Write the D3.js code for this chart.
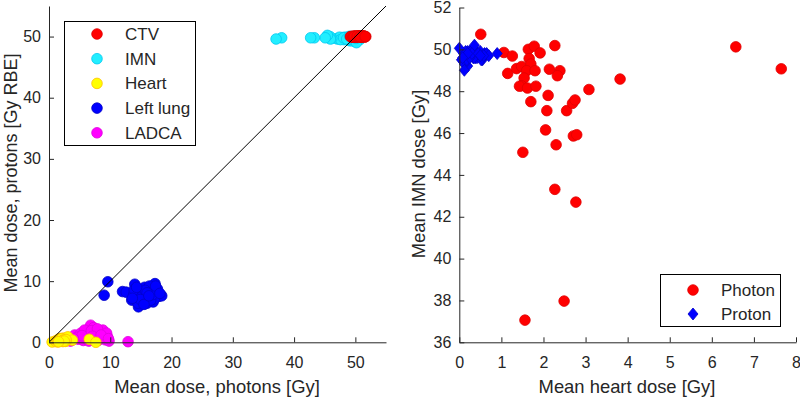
<!DOCTYPE html>
<html>
<head>
<meta charset="utf-8">
<script src="https://cdn.jsdelivr.net/npm/d3@7"></script>
<style>
  body { margin: 0; background: #fff; }
  svg { font-family: "Liberation Sans", Arial, sans-serif; }
</style>
</head>
<body>
<svg id="chart" width="800" height="398"></svg>
<script>
// per patient values (41 patients)
var photonHeart = [0.51, 1.06, 1.26, 1.15, 1.36, 1.48, 1.64, 1.78, 1.92, 1.66, 1.70, 1.60, 1.80, 1.54, 1.48, 1.43, 1.62, 1.82, 2.14, 2.39, 2.33,
    2.27, 1.70, 2.11, 2.08, 2.55, 2.69, 2.75, 3.08, 3.82, 2.05, 2.71, 2.79, 2.30, 1.51, 2.27, 2.77, 2.49, 1.56, 6.57, 7.65];
var photonIMN = [50.72, 49.85, 49.68, 48.85, 49.08, 49.18, 50.0, 50.15, 49.83, 49.56, 49.3, 48.98, 48.98, 48.63, 48.26, 48.24, 48.15, 48.24, 49.05, 48.98, 48.74,
    50.18, 47.5, 47.8, 47.07, 47.07, 47.42, 47.58, 48.08, 48.58, 46.15, 45.86, 45.92, 45.44, 45.08, 43.31, 42.7, 37.97, 37.06, 50.12, 49.07];
var protonHeart = [0.05, 0.2, 0.3, 0.1, 0.15, 0.12, 0.4, 0.35, 0.5, 0.22, 0.45, 0.18, 0.28, 0.33, 0.4, 0.25, 0.55, 0.6, 0.3, 0.38, 0.2,
    0.12, 0.48, 0.65, 0.42, 0.7, 0.15, 0.52, 0.9, 0.35, 0.58, 0.32, 0.25, 0.36, 0.1, 0.3, 0.45, 0.2, 0.08, 0.5, 0.0];
var protonIMN = [49.5, 49.2, 49.7, 49.4, 49.6, 49.3, 49.8, 50.0, 49.9, 49.6, 49.7, 49.5, 49.8, 49.6, 49.7, 49.9, 49.5, 49.8, 49.7, 49.6, 49.9,
    49.0, 49.7, 49.8, 49.6, 49.7, 49.9, 49.5, 49.8, 49.6, 49.7, 50.0, 49.6, 50.2, 49.8, 49.8, 49.8, 49.8, 49.6, 49.7, 50.05];
var photonCTV = [49.2, 49.5, 49.8, 50.1, 50.3, 50.6, 50.9, 51.2, 51.5, 51.7, 49.6, 50.0, 50.4, 50.8, 51.0, 49.9, 50.2, 50.5, 50.7, 51.3, 49.4,
    49.7, 50.0, 50.3, 50.6, 51.1, 49.3, 49.9, 50.1, 50.4, 50.9, 51.4, 49.6, 50.2, 50.5, 50.8, 51.0, 49.8, 50.3, 50.7, 51.6];
var protonCTV = [50.0, 49.9, 50.1, 50.0, 49.95, 50.05, 50.0, 50.1, 49.9, 50.0, 50.05, 49.95, 50.0, 50.1, 49.9, 50.0, 50.05, 50.0, 49.95, 50.1, 50.0,
    49.9, 50.05, 50.0, 50.1, 49.95, 50.0, 50.0, 49.9, 50.05, 50.0, 50.1, 49.95, 50.0, 50.0, 50.05, 49.9, 50.0, 50.1, 50.0, 50.0];
var photonLung = [9.6, 9.0, 12.0, 12.6, 14.0, 13.5, 14.6, 15.4, 16.5, 17.3, 17.0, 16.0, 17.9, 18.4, 14.2, 14.8, 15.0, 15.6, 16.2, 16.8, 17.5,
    13.8, 14.5, 15.3, 15.9, 16.4, 17.2, 17.7, 13.9, 15.1, 16.6, 16.9, 15.7, 14.3, 17.4, 16.0, 14.9, 18.1, 15.5, 16.3, 13.6];
var protonLung = [9.9, 7.7, 8.3, 8.2, 9.5, 6.9, 5.8, 7.7, 8.3, 9.6, 6.6, 6.4, 7.5, 7.6, 7.3, 8.6, 6.8, 9.0, 7.3, 8.8, 8.2,
    7.8, 6.4, 8.2, 7.9, 9.2, 7.1, 8.7, 8.6, 7.4, 6.9, 7.8, 8.5, 9.0, 9.2, 8.1, 7.0, 8.0, 6.2, 7.6, 7.2];
var photonLAD = [4.2, 4.8, 5.2, 5.6, 6.0, 6.4, 6.8, 7.0, 7.2, 7.5, 7.8, 8.0, 8.3, 8.6, 8.9, 9.2, 9.5, 9.8, 5.0, 5.8, 6.2,
    6.6, 7.3, 7.6, 8.1, 8.4, 8.8, 9.0, 3.8, 4.5, 5.4, 6.9, 7.9, 9.4, 3.5, 4.0, 6.5, 7.1, 8.5, 9.7, 12.9];
var protonLAD = [1.2, 0.5, 1.5, 0.3, 1.0, 1.8, 2.8, 1.4, 0.6, 2.0, 1.1, 0.3, 1.7, 0.9, 1.3, 0.4, 1.0, 0.2, 0.9, 2.0, 0.5,
    1.2, 2.4, 0.9, 1.5, 0.6, 2.0, 0.8, 0.4, 0.8, 1.1, 1.9, 2.2, 1.5, 0.2, 0.6, 0.2, 1.0, 1.2, 0.6, 0.1];

var leftTicks = [0, 10, 20, 30, 40, 50];
var rightXTicks = [0, 1, 2, 3, 4, 5, 6, 7, 8];
var rightYTicks = [36, 38, 40, 42, 44, 46, 48, 50, 52];

var structures = [
    {name: "CTV", x: photonCTV, y: protonCTV, fill: "#ff0000", stroke: "#e00000"},
    {name: "IMN", x: photonIMN, y: protonIMN, fill: "#22eeff", stroke: "#00c8f0"},
    {name: "Heart", x: photonHeart, y: protonHeart, fill: "#ffff00", stroke: "#ffc000"},
    {name: "Left lung", x: photonLung, y: protonLung, fill: "#0000ff", stroke: "#0000c8"},
    {name: "LADCA", x: photonLAD, y: protonLAD, fill: "#ff00ff", stroke: "#e000e0"}
];
// order the points are drawn in
var drawOrder = ["IMN", "CTV", "LADCA", "Left lung", "Heart"];

var svg = d3.select("#chart");
var axisColor = "#262626";

function styleAxis(g) {
    g.select(".domain").attr("stroke", axisColor).attr("stroke-width", 1);
    g.selectAll(".tick line").attr("stroke", axisColor);
    g.selectAll(".tick text").attr("fill", axisColor).style("font-size", "16px");
}

// ---------- left panel ----------
var x1 = d3.scaleLinear().domain([0, 55]).range([49, 386]);
var y1 = d3.scaleLinear().domain([0, 55]).range([342.3, 6]);

var pts1 = svg.append("g");
drawOrder.forEach(function (name) {
    var s = structures.find(function (d) { return d.name === name; });
    pts1.append("g")
        .selectAll("circle")
        .data(s.x.map(function (v, i) { return [v, s.y[i]]; }))
        .enter()
        .append("circle")
        .attr("cx", function (d) { return x1(d[0]); })
        .attr("cy", function (d) { return y1(d[1]); })
        .attr("r", 5.3)
        .attr("fill", s.fill)
        .attr("stroke", s.stroke)
        .attr("stroke-width", 0.8);
});

// line of identity
svg.append("line")
    .attr("x1", x1(0)).attr("y1", y1(0))
    .attr("x2", x1(55)).attr("y2", y1(55))
    .attr("stroke", "#000")
    .attr("stroke-width", 1);

svg.append("g")
    .attr("transform", "translate(0," + y1(0) + ")")
    .call(d3.axisBottom(x1).tickValues(leftTicks).tickSizeInner(-5).tickSizeOuter(0).tickPadding(14))
    .call(styleAxis);
svg.append("g")
    .attr("transform", "translate(" + x1(0) + ",0)")
    .call(d3.axisLeft(y1).tickValues(leftTicks).tickSizeInner(-5).tickSizeOuter(0).tickPadding(8))
    .call(styleAxis);

svg.append("text")
    .attr("x", 217).attr("y", 393)
    .attr("text-anchor", "middle")
    .attr("fill", axisColor)
    .style("font-size", "18.4px")
    .text("Mean dose, photons [Gy]");
svg.append("text")
    .attr("transform", "translate(17,173) rotate(-90)")
    .attr("text-anchor", "middle")
    .attr("fill", axisColor)
    .style("font-size", "18px")
    .text("Mean dose, protons [Gy RBE]");

// legend left
var leg1 = svg.append("g");
leg1.append("rect")
    .attr("x", 64.5).attr("y", 21.5).attr("width", 131).attr("height", 124)
    .attr("fill", "#fff").attr("stroke", "#000").attr("stroke-width", 1);
structures.forEach(function (s, i) {
    var ly = 34 + i * 24.7;
    leg1.append("circle")
        .attr("cx", 97).attr("cy", ly).attr("r", 5.3)
        .attr("fill", s.fill).attr("stroke", s.stroke).attr("stroke-width", 0.8);
    leg1.append("text")
        .attr("x", 125).attr("y", ly).attr("dy", "0.35em")
        .attr("fill", axisColor)
        .style("font-size", "17px")
        .text(s.name);
});

// ---------- right panel ----------
var x2 = d3.scaleLinear().domain([0, 8]).range([459.3, 796]);
var y2 = d3.scaleLinear().domain([36, 52]).range([342.3, 7.5]);
var diamond = "M0,-6L5,0L0,6L-5,0Z";

svg.append("g")
    .selectAll("circle")
    .data(photonHeart.map(function (v, i) { return [v, photonIMN[i]]; }))
    .enter()
    .append("circle")
    .attr("cx", function (d) { return x2(d[0]); })
    .attr("cy", function (d) { return y2(d[1]); })
    .attr("r", 5.3)
    .attr("fill", "#ff0000")
    .attr("stroke", "#e00000")
    .attr("stroke-width", 0.8);

svg.append("g")
    .selectAll("path")
    .data(protonHeart.map(function (v, i) { return [v, protonIMN[i]]; }))
    .enter()
    .append("path")
    .attr("d", diamond)
    .attr("transform", function (d) { return "translate(" + x2(d[0]) + "," + y2(d[1]) + ")"; })
    .attr("fill", "#0000ff")
    .attr("stroke", "#0000c8")
    .attr("stroke-width", 0.8);

svg.append("g")
    .attr("transform", "translate(0," + y2(36) + ")")
    .call(d3.axisBottom(x2).tickValues(rightXTicks).tickSizeInner(-5).tickSizeOuter(0).tickPadding(14))
    .call(styleAxis);
svg.append("g")
    .attr("transform", "translate(" + x2(0) + ",0)")
    .call(d3.axisLeft(y2).tickValues(rightYTicks).tickSizeInner(-5).tickSizeOuter(0).tickPadding(8))
    .call(styleAxis);

svg.append("text")
    .attr("x", 627).attr("y", 393)
    .attr("text-anchor", "middle")
    .attr("fill", axisColor)
    .style("font-size", "18.4px")
    .text("Mean heart dose [Gy]");
svg.append("text")
    .attr("transform", "translate(425,174) rotate(-90)")
    .attr("text-anchor", "middle")
    .attr("fill", axisColor)
    .style("font-size", "18.4px")
    .text("Mean IMN dose [Gy]");

// legend right
var leg2 = svg.append("g");
leg2.append("rect")
    .attr("x", 660.5).attr("y", 274.5).attr("width", 120).attr("height", 52)
    .attr("fill", "#fff").attr("stroke", "#000").attr("stroke-width", 1);
leg2.append("circle")
    .attr("cx", 693).attr("cy", 290).attr("r", 5.3)
    .attr("fill", "#ff0000").attr("stroke", "#e00000").attr("stroke-width", 0.8);
leg2.append("path")
    .attr("d", diamond)
    .attr("transform", "translate(693,314)")
    .attr("fill", "#0000ff").attr("stroke", "#0000c8").attr("stroke-width", 0.8);
leg2.append("text")
    .attr("x", 721).attr("y", 290).attr("dy", "0.35em")
    .attr("fill", axisColor).style("font-size", "17px")
    .text("Photon");
leg2.append("text")
    .attr("x", 721).attr("y", 314).attr("dy", "0.35em")
    .attr("fill", axisColor).style("font-size", "17px")
    .text("Proton");
</script>
</body>
</html>
